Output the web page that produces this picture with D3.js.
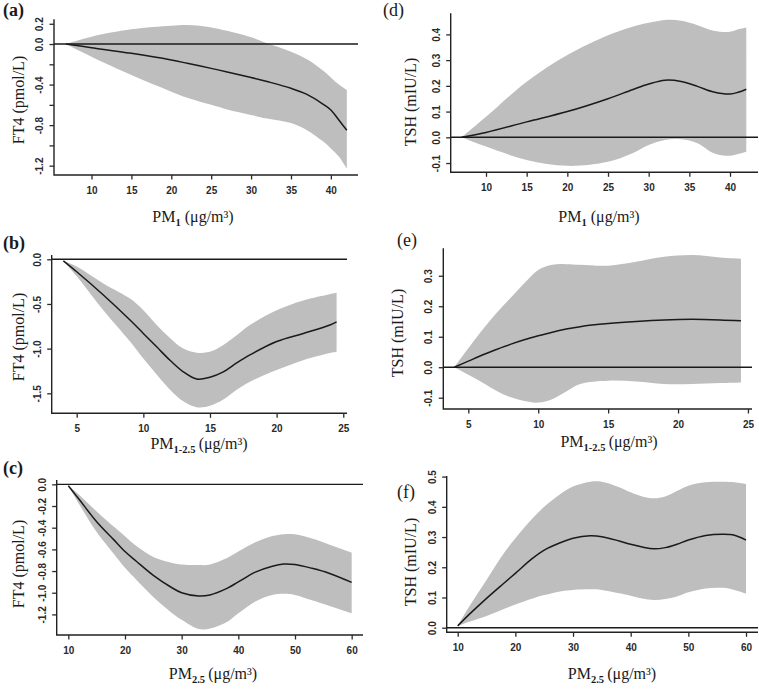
<!DOCTYPE html>
<html>
<head>
<meta charset="utf-8">
<script src="https://cdn.jsdelivr.net/npm/d3@7"></script>
<style>
	body { margin: 0; background: #fff; }
	svg { display: block; }
</style>
</head>
<body>
<div id="chart-area"></div>
<script>
// ---- values ----

// (a) PM1 -> FT4
var aX   = [6.8, 10, 15, 20, 22, 25, 27, 30, 32, 35, 37, 39, 40, 41, 42];
var aFit = [0, -0.036, -0.092, -0.158, -0.19, -0.24, -0.275, -0.33, -0.37, -0.437, -0.497, -0.592, -0.65, -0.75, -0.85];
var aLo  = [0, -0.125, -0.306, -0.47, -0.53, -0.60, -0.645, -0.70, -0.735, -0.78, -0.85, -0.96, -1.03, -1.11, -1.23];
var aHi  = [0, 0.072, 0.145, 0.18, 0.187, 0.164, 0.13, 0.066, 0.007, -0.076, -0.15, -0.26, -0.33, -0.40, -0.454];

// (d) PM1 -> TSH
var dX   = [7, 10, 15, 20, 25, 28, 30, 32, 34, 36, 38, 40, 41, 42];
var dFit = [0, 0.019, 0.06, 0.10, 0.15, 0.185, 0.207, 0.222, 0.217, 0.198, 0.176, 0.168, 0.175, 0.187];
var dLo  = [0, -0.036, -0.088, -0.111, -0.095, -0.062, -0.03, -0.01, -0.008, -0.023, -0.062, -0.072, -0.065, -0.056];
var dHi  = [0, 0.08, 0.216, 0.32, 0.397, 0.43, 0.445, 0.456, 0.453, 0.436, 0.414, 0.41, 0.42, 0.427];

// (b) PM1-2.5 -> FT4
var bX   = [4, 5, 7, 9, 10, 11, 12, 13, 14, 15, 16, 17, 18, 20, 22, 24, 24.5];
var bFit = [-0.018, -0.14, -0.40, -0.68, -0.83, -0.98, -1.13, -1.26, -1.34, -1.32, -1.26, -1.16, -1.07, -0.92, -0.83, -0.735, -0.70];
var bLo  = [-0.018, -0.19, -0.57, -0.92, -1.11, -1.29, -1.46, -1.59, -1.655, -1.64, -1.57, -1.46, -1.37, -1.24, -1.13, -1.05, -1.035];
var bHi  = [-0.018, -0.08, -0.27, -0.44, -0.57, -0.735, -0.88, -1.0, -1.045, -1.035, -0.96, -0.85, -0.735, -0.57, -0.46, -0.39, -0.375];

// (e) PM1-2.5 -> TSH
var eX   = [4, 5, 6, 7, 8, 9, 10, 11, 12, 13, 15, 17, 19, 21, 23, 24.5];
var eFit = [0, 0.02, 0.04, 0.058, 0.075, 0.09, 0.103, 0.115, 0.125, 0.133, 0.143, 0.15, 0.155, 0.157, 0.155, 0.152];
var eLo  = [0, -0.025, -0.05, -0.077, -0.098, -0.111, -0.116, -0.105, -0.08, -0.055, -0.044, -0.047, -0.055, -0.055, -0.052, -0.05];
var eHi  = [0, 0.062, 0.122, 0.177, 0.226, 0.275, 0.319, 0.336, 0.338, 0.336, 0.333, 0.346, 0.362, 0.368, 0.36, 0.356];

// (c) PM2.5 -> FT4
var cX   = [10, 12, 15, 18, 20, 22, 25, 28, 30, 33, 35, 38, 40, 43, 46, 48, 50, 53, 56, 60];
var cFit = [-0.013, -0.145, -0.345, -0.51, -0.62, -0.71, -0.84, -0.945, -1.0, -1.03, -1.02, -0.96, -0.90, -0.81, -0.755, -0.735, -0.74, -0.775, -0.82, -0.905];
var cLo  = [-0.013, -0.19, -0.44, -0.64, -0.77, -0.88, -1.04, -1.175, -1.25, -1.335, -1.33, -1.27, -1.19, -1.08, -1.02, -1.01, -1.02, -1.07, -1.12, -1.19];
var cHi  = [-0.013, -0.1, -0.25, -0.39, -0.48, -0.57, -0.67, -0.72, -0.74, -0.745, -0.74, -0.68, -0.62, -0.535, -0.477, -0.46, -0.46, -0.5, -0.555, -0.63];

// (f) PM2.5 -> TSH
var fX   = [10, 12, 15, 18, 20, 23, 25, 28, 30, 33, 35, 38, 40, 42, 44, 46, 48, 50, 53, 56, 58, 60];
var fFit = [0.006, 0.044, 0.097, 0.147, 0.18, 0.23, 0.257, 0.283, 0.296, 0.304, 0.301, 0.287, 0.276, 0.267, 0.261, 0.265, 0.276, 0.29, 0.305, 0.309, 0.306, 0.29];
var fLo  = [0.006, 0.02, 0.039, 0.062, 0.077, 0.097, 0.108, 0.121, 0.125, 0.127, 0.125, 0.114, 0.106, 0.097, 0.092, 0.095, 0.103, 0.117, 0.13, 0.132, 0.125, 0.113];
var fHi  = [0.006, 0.07, 0.158, 0.246, 0.296, 0.362, 0.40, 0.445, 0.467, 0.483, 0.483, 0.465, 0.448, 0.434, 0.428, 0.434, 0.452, 0.47, 0.481, 0.483, 0.481, 0.475];

// tick values
var pm1Ticks  = [10, 15, 20, 25, 30, 35, 40];
var pm125Ticks = [5, 10, 15, 20, 25];
var pm25Ticks = [10, 20, 30, 40, 50, 60];
var aYTicks = [-1.2, -1.0, -0.8, -0.6, -0.4, -0.2, 0, 0.2];
var aYLabels = [-1.2, -0.8, -0.4, 0, 0.2];
var dYTicks = [-0.1, 0, 0.1, 0.2, 0.3, 0.4];
var bYTicks = [-1.5, -1.0, -0.5, 0];
var eYTicks = [-0.1, 0, 0.1, 0.2, 0.3];
var cYTicks = [-1.2, -1.0, -0.8, -0.6, -0.4, -0.2, 0];
var fYTicks = [0, 0.1, 0.2, 0.3, 0.4, 0.5];

// ---- layout ----
var width = 759;
var height = 689;
var serif = "'Liberation Serif', 'Times New Roman', Times, serif";
var sans = "'Liberation Sans', Arial, Helvetica, sans-serif";
var ink = "#1a1a1a";

var panels = [
	{x: aX, fit: aFit, lo: aLo, hi: aHi, xTicks: pm1Ticks, yTicks: aYTicks, yLabels: aYLabels,
	 xDom: [5.3, 43.4], yDom: [-1.292, 0.244], box: [54, 358, 19.3, 175],
	 tag: "(a)", tagPos: [3, 15.5], bold: true, yTitle: "FT4 (pmol/L)", yTitlePos: [24, 100],
	 sub: "1", gap: " ", xTitlePos: [193, 222]},
	{x: dX, fit: dFit, lo: dLo, hi: dHi, xTicks: pm1Ticks, yTicks: dYTicks, yLabels: dYTicks,
	 xDom: [5.66, 43.44], yDom: [-0.136, 0.482], box: [450.7, 758, 13.3, 172.3],
	 tag: "(d)", tagPos: [383, 15.5], bold: false, yTitle: "TSH (mIU/L)", yTitlePos: [416, 102],
	 sub: "1", gap: " ", xTitlePos: [599, 222]},
	{x: bX, fit: bFit, lo: bLo, hi: bHi, xTicks: pm125Ticks, yTicks: bYTicks, yLabels: bYTicks,
	 xDom: [3.125, 25.28], yDom: [-1.724, 0.048], box: [51.7, 347, 255, 413.3],
	 tag: "(b)", tagPos: [3, 249], bold: true, yTitle: "FT4 (pmol/L)", yTitlePos: [24, 337],
	 sub: "1-2.5", gap: "\u2009", xTitlePos: [199, 449]},
	{x: eX, fit: eFit, lo: eLo, hi: eHi, xTicks: pm125Ticks, yTicks: eYTicks, yLabels: eYTicks,
	 xDom: [3.21, 25.29], yDom: [-0.137, 0.390], box: [443.3, 752, 248.3, 409],
	 tag: "(e)", tagPos: [397, 246], bold: false, yTitle: "TSH (mIU/L)", yTitlePos: [403, 333],
	 sub: "1-2.5", gap: "\u2009", xTitlePos: [609, 447]},
	{x: cX, fit: cFit, lo: cLo, hi: cHi, xTicks: pm25Ticks, yTicks: cYTicks, yLabels: cYTicks,
	 xDom: [7.95, 62], yDom: [-1.39, 0.04], box: [56.7, 363, 480, 635],
	 tag: "(c)", tagPos: [3, 474], bold: true, yTitle: "FT4 (pmol/L)", yTitlePos: [24, 564],
	 sub: "2.5", gap: "\u2009", xTitlePos: [213, 679]},
	{x: fX, fit: fFit, lo: fLo, hi: fHi, xTicks: pm25Ticks, yTicks: fYTicks, yLabels: fYTicks,
	 xDom: [8.09, 62.08], yDom: [-0.0152, 0.502], box: [446.7, 758, 476, 632.3],
	 tag: "(f)", tagPos: [397, 498], bold: false, yTitle: "TSH (mIU/L)", yTitlePos: [416, 562],
	 sub: "2.5", gap: "\u2009", xTitlePos: [612, 679]}
];

var svg = d3.select("#chart-area")
	.append("svg")
	.attr("width", width)
	.attr("height", height);

function fmt(v) {
	return (Math.abs(v) < 1e-9 ? 0 : v).toFixed(1);
}

function drawPanel(p) {
	var left = p.box[0], right = p.box[1], top = p.box[2], bottom = p.box[3];

	var x = d3.scaleLinear().domain(p.xDom).range([left, right]);
	var y = d3.scaleLinear().domain(p.yDom).range([bottom, top]);

	var rows = p.x.map((v, i) => {
		return {x: v, fit: p.fit[i], lo: p.lo[i], hi: p.hi[i]};
	});

	var g = svg.append("g");

	// confidence band
	var band = d3.area()
		.curve(d3.curveCatmullRom)
		.x((d) => { return x(d.x); })
		.y0((d) => { return y(d.lo); })
		.y1((d) => { return y(d.hi); });

	g.append("path")
		.datum(rows)
		.attr("d", band)
		.attr("fill", "#bebebe");

	// reference line at zero
	g.append("line")
		.attr("x1", left)
		.attr("x2", right)
		.attr("y1", y(0))
		.attr("y2", y(0))
		.attr("stroke", ink)
		.attr("stroke-width", 1.4);

	// fitted curve
	var line = d3.line()
		.curve(d3.curveCatmullRom)
		.x((d) => { return x(d.x); })
		.y((d) => { return y(d.fit); });

	g.append("path")
		.datum(rows)
		.attr("d", line)
		.attr("fill", "none")
		.attr("stroke", ink)
		.attr("stroke-width", 1.5);

	// L shaped frame
	g.append("path")
		.attr("d", "M" + left + "," + top + "V" + bottom + "H" + right)
		.attr("fill", "none")
		.attr("stroke", "#222")
		.attr("stroke-width", 1.4);

	// axes
	var xAxis = g.append("g")
		.attr("transform", "translate(0," + bottom + ")")
		.call(d3.axisBottom(x)
			.tickValues(p.xTicks)
			.tickSize(4.5)
			.tickPadding(7.5)
			.tickFormat(d3.format("d")));

	var yAxis = g.append("g")
		.attr("transform", "translate(" + left + ",0)")
		.call(d3.axisLeft(y)
			.tickValues(p.yTicks)
			.tickSize(4.5));

	[xAxis, yAxis].forEach((ax) => {
		ax.select(".domain").remove();
		ax.attr("font-family", sans)
			.attr("font-size", 10)
			.attr("font-weight", "bold")
			.attr("color", "#2a2a2a");
		ax.selectAll(".tick line").attr("stroke-width", 1.3);
	});

	yAxis.selectAll(".tick text")
		.attr("transform", "translate(-11,0) rotate(-90)")
		.attr("x", 0)
		.attr("y", 0)
		.attr("dy", 0)
		.attr("text-anchor", "middle")
		.text((d) => {
			var shown = p.yLabels.some((v) => { return Math.abs(v - d) < 1e-9; });
			return shown ? fmt(d) : "";
		});

	// panel tag
	g.append("text")
		.attr("x", p.tagPos[0])
		.attr("y", p.tagPos[1])
		.attr("font-family", serif)
		.attr("font-size", "18px")
		.attr("font-weight", p.bold ? "bold" : "normal")
		.attr("fill", ink)
		.text(p.tag);

	// y title
	g.append("text")
		.attr("transform", "translate(" + p.yTitlePos[0] + "," + p.yTitlePos[1] + ") rotate(-90)")
		.attr("text-anchor", "middle")
		.attr("font-family", serif)
		.attr("font-size", "16px")
		.attr("fill", ink)
		.text(p.yTitle);

	// x title with subscript
	var xt = g.append("text")
		.attr("x", p.xTitlePos[0])
		.attr("y", p.xTitlePos[1])
		.attr("text-anchor", "middle")
		.attr("font-family", serif)
		.attr("font-size", "16px")
		.attr("fill", ink);

	xt.append("tspan").text("PM");
	xt.append("tspan")
		.attr("font-size", "10.5px")
		.attr("font-weight", "bold")
		.attr("dy", 4)
		.text(p.sub);
	xt.append("tspan")
		.attr("dy", -4)
		.text(p.gap + "(\u03bcg/m\u00b3)");
}

panels.forEach((p) => {
	drawPanel(p);
});
</script>
</body>
</html>
